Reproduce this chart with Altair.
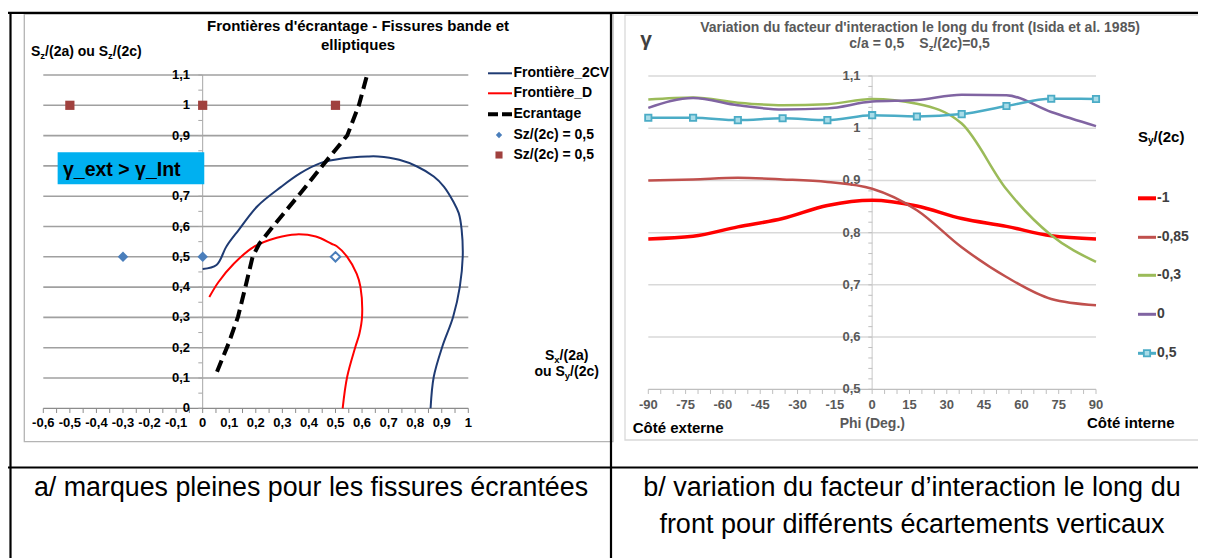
import altair as alt
import pandas as pd

# ---------------- canvas ----------------
W, H = 1190, 550
M = 8  # page margin


def X(p):
    return round(p - M, 2)


def Y(p):
    return round(p - M, 2)


FONT = "Liberation Sans, Arial, Helvetica, sans-serif"

# ---------------- chart a data ----------------
cv2_x = [0.0, 0.052, 0.09, 0.136, 0.206, 0.294, 0.368, 0.443, 0.53, 0.62, 0.66, 0.74,
         0.807, 0.87, 0.908, 0.945, 0.964, 0.975, 0.979, 0.968, 0.943, 0.902, 0.870, 0.858]
cv2_y = [0.46, 0.473, 0.535, 0.589, 0.667, 0.73, 0.776, 0.809, 0.825, 0.831, 0.831, 0.82,
         0.798, 0.765, 0.732, 0.68, 0.644, 0.589, 0.5, 0.401, 0.302, 0.203, 0.104, 0.0]
fd_x = [0.025, 0.059, 0.117, 0.191, 0.279, 0.352, 0.426, 0.485, 0.505, 0.544, 0.58,
        0.594, 0.6, 0.59, 0.575, 0.544, 0.527]
fd_y = [0.367, 0.416, 0.477, 0.532, 0.563, 0.574, 0.567, 0.543, 0.535, 0.5, 0.444,
        0.401, 0.302, 0.246, 0.203, 0.104, 0.0]
ecr_x = [0.054, 0.098, 0.133, 0.161, 0.188, 0.213, 0.26, 0.368, 0.453, 0.544, 0.588, 0.619]
ecr_y = [0.121, 0.215, 0.302, 0.401, 0.5, 0.543, 0.595, 0.71, 0.803, 0.9, 1.0, 1.1]
diam_x = [-0.3, 0.0]
diam_y = [0.5, 0.5]
open_diam_x = [0.5]
open_diam_y = [0.5]
sq_x = [-0.5, 0.0, 0.5]
sq_y = [1.0, 1.0, 1.0]

# tick values / labels chart a ("0,8" is hidden under the annotation box)
xa_major = [-0.6, -0.5, -0.4, -0.3, -0.2, -0.1, 0.0, 0.1, 0.2, 0.3, 0.4, 0.5, 0.6, 0.7, 0.8,
            0.9, 1.0]
xa_labels = ["-0,6", "-0,5", "-0,4", "-0,3", "-0,2", "-0,1", "0", "0,1", "0,2", "0,3", "0,4",
             "0,5", "0,6", "0,7", "0,8", "0,9", "1"]
ya_major = [0.0, 0.1, 0.2, 0.3, 0.4, 0.5, 0.6, 0.7, 0.9, 1.0, 1.1]
ya_labels = ["0", "0,1", "0,2", "0,3", "0,4", "0,5", "0,6", "0,7", "0,9", "1", "1,1"]
ya_grid = [0.1, 0.2, 0.3, 0.4, 0.5, 0.6, 0.7, 0.8, 0.9, 1.0, 1.1]

# ---------------- chart b data ----------------
phi = [-90, -72, -54, -36, -18, 0, 18, 36, 54, 72, 90]
g_m1 = [0.788, 0.793, 0.811, 0.827, 0.852, 0.862, 0.851, 0.827, 0.812, 0.794, 0.788]
g_m085 = [0.900, 0.902, 0.905, 0.902, 0.897, 0.884, 0.843, 0.772, 0.715, 0.673, 0.661]
g_m03 = [1.055, 1.059, 1.049, 1.044, 1.046, 1.056, 1.047, 1.009, 0.883, 0.795, 0.744]
g_0 = [1.039, 1.058, 1.044, 1.036, 1.038, 1.051, 1.054, 1.064, 1.063, 1.031, 1.004]
g_05 = [1.020, 1.020, 1.0155, 1.019, 1.0155, 1.025, 1.0225, 1.027, 1.0425, 1.0565, 1.056]
series_names = ["-1", "-0,85", "-0,3", "0", "0,5"]
series_vals = [g_m1, g_m085, g_m03, g_0, g_05]
series_cols = ["#FF0000", "#C0504D", "#9BBB59", "#8064A2", "#4BACC6"]
series_sw = [3.5, 2.5, 2.5, 2.5, 2.5]

xb_major = [-90, -75, -60, -45, -30, -15, 0, 15, 30, 45, 60, 75, 90]
xb_labels = ["-90", "-75", "-60", "-45", "-30", "-15", "0", "15", "30", "45", "60", "75", "90"]
yb_major = [0.5, 0.6, 0.7, 0.8, 0.9, 1.0, 1.1]
yb_labels = ["0,5", "0,6", "0,7", "0,8", "0,9", "1", "1,1"]

# ---------------- helpers ----------------
ONE = pd.DataFrame({"k": [1]})
BW = {' ': 278, '(': 333, ')': 333, ',': 278, '/': 278, '=': 584, '.': 278, 'S': 667,
      'a': 556, 'c': 556, 'o': 611, 'u': 611, 'x': 556, 'y': 556, 'z': 500}
for d in "0123456789":
    BW[d] = 556


def rich(pieces, x0, yc, fs, subfs, anchor="left"):
    widths = [sum(BW.get(c, 556) for c in t) / 1000.0 * (subfs if s else fs) for t, s in pieces]
    if anchor == "center":
        x0 -= sum(widths) / 2.0
    rows, x = [], x0
    for (t, s), w in zip(pieces, widths):
        rows.append((x, yc + (fs * 0.28 if s else 0), t, subfs if s else fs))
        x += w
    return rows


def texts(rows, color, align="left", weight="bold", baseline="middle", font=FONT):
    df = pd.DataFrame({"px": [X(r[0]) for r in rows], "py": [Y(r[1]) for r in rows],
                       "t": [r[2] for r in rows], "fs": [r[3] for r in rows]})
    return alt.Chart(df).mark_text(align=align, baseline=baseline, font=font,
                                   fontWeight=weight, color=color).encode(
        x=alt.X("px:Q", scale=None, axis=None),
        y=alt.Y("py:Q", scale=None, axis=None),
        text="t:N",
        size=alt.Size("fs:Q", scale=None, legend=None))


def curve_df(xs, ys):
    return pd.DataFrame({"x": xs, "y": ys, "i": list(range(len(xs)))})


def frange(a, b, step, nd=2):
    n = int(round((b - a) / step))
    return [round(a + step * k, nd) for k in range(n + 1)]


# ================= chart a =================
xa = alt.Scale(domain=[-0.6, 1.0], range=[X(43.3), X(468.3)], nice=False, zero=False)
ya = alt.Scale(domain=[0, 1.1], range=[Y(408.3), Y(75.0)], nice=False, zero=False)
XA = lambda f: alt.X(f, scale=xa, axis=None)
YA = lambda f: alt.Y(f, scale=ya, axis=None)

grid_a = alt.Chart(pd.DataFrame({"v": ya_grid, "x0": -0.6, "x1": 1.0})).mark_rule(
    color="#A0A0A0", strokeWidth=1.6).encode(x=XA("x0:Q"), x2="x1", y=YA("v:Q"))

# axes of chart a (drawn with the chart's own scales)
a_ydom = alt.Chart(pd.DataFrame({"x": [0.0], "y0": [0.0], "y1": [1.1]})).mark_rule(
    color="#A6A6A6", strokeWidth=1).encode(x=XA("x:Q"), y=YA("y0:Q"), y2="y1")
a_xdom = alt.Chart(pd.DataFrame({"y": [0.0], "x0": [-0.6], "x1": [1.0]})).mark_rule(
    color="#8C8C8C", strokeWidth=1.2).encode(y=YA("y:Q"), x=XA("x0:Q"), x2="x1")
a_yticks = alt.Chart(pd.DataFrame({"v": frange(0, 1.1, 0.05)})).mark_rule(
    color="#A6A6A6", strokeWidth=1).encode(
    y=YA("v:Q"), x=alt.value(X(198.3)), x2=alt.value(X(202.3)))
a_xticks = alt.Chart(pd.DataFrame({"v": frange(-0.6, 1.0, 0.05)})).mark_rule(
    color="#8C8C8C", strokeWidth=1).encode(
    x=XA("v:Q"), y=alt.value(Y(408.3)), y2=alt.value(Y(413.0)))
a_ylab = alt.Chart(pd.DataFrame({"v": ya_major, "t": ya_labels})).mark_text(
    align="right", baseline="middle", font=FONT, fontSize=13, fontWeight="bold",
    color="#000000").encode(y=YA("v:Q"), x=alt.value(X(190.0)), text="t:N")
a_xlab = alt.Chart(pd.DataFrame({"v": xa_major, "t": xa_labels})).mark_text(
    align="center", baseline="middle", font=FONT, fontSize=13, fontWeight="bold",
    color="#000000").encode(x=XA("v:Q"), y=alt.value(Y(423.0)), text="t:N")

line_2cv = alt.Chart(curve_df(cv2_x, cv2_y)).mark_line(
    color="#1F3B73", strokeWidth=2, interpolate="catmull-rom").encode(
    x=XA("x:Q"), y=YA("y:Q"), order="i:Q")
line_d = alt.Chart(curve_df(fd_x, fd_y)).mark_line(
    color="#FF0000", strokeWidth=2, interpolate="catmull-rom").encode(
    x=XA("x:Q"), y=YA("y:Q"), order="i:Q")
line_ecr = alt.Chart(curve_df(ecr_x, ecr_y)).mark_line(
    color="#000000", strokeWidth=4, strokeDash=[12, 6]).encode(
    x=XA("x:Q"), y=YA("y:Q"), order="i:Q")

pts_d = alt.Chart(pd.DataFrame({"x": diam_x, "y": diam_y})).mark_point(
    shape="diamond", filled=True, color="#4A7EBB", size=110, opacity=1).encode(
    x=XA("x:Q"), y=YA("y:Q"))
pts_od = alt.Chart(pd.DataFrame({"x": open_diam_x, "y": open_diam_y})).mark_point(
    shape="diamond", filled=False, stroke="#4A7EBB", fill="#FFFFFF", strokeWidth=2,
    size=90, opacity=1).encode(x=XA("x:Q"), y=YA("y:Q"))
pts_s = alt.Chart(pd.DataFrame({"x": sq_x, "y": sq_y})).mark_point(
    shape="square", filled=True, color="#A0413E", size=85, opacity=1).encode(
    x=XA("x:Q"), y=YA("y:Q"))

# annotation box (data coordinates of chart a)
ann = pd.DataFrame({"x0": [-0.546], "x1": [0.006], "y0": [0.7395], "y1": [0.845],
                    "tx": [-0.526], "ty": [0.787]})
ann_box = alt.Chart(ann).mark_rect(color="#00B0F0").encode(
    x=XA("x0:Q"), x2="x1", y=YA("y0:Q"), y2="y1")
ann_txt = alt.Chart(ann).mark_text(text="γ_ext > γ_Int", font=FONT, fontSize=19.5,
                                   fontWeight="bold", align="left", baseline="middle",
                                   color="#000000").encode(x=XA("tx:Q"), y=YA("ty:Q"))

chart_a = alt.layer(grid_a, a_ydom, a_xdom, a_yticks, a_xticks, a_ylab, a_xlab,
                    line_2cv, line_d, line_ecr, pts_d, pts_od, pts_s, ann_box, ann_txt)

# ================= chart b =================
xb = alt.Scale(domain=[-90, 90], range=[X(648.3), X(1096.0)], nice=False, zero=False)
yb = alt.Scale(domain=[0.5, 1.1], range=[Y(389.3), Y(76.0)], nice=False, zero=False)
XB = lambda f: alt.X(f, scale=xb, axis=None)
YB = lambda f: alt.Y(f, scale=yb, axis=None)

grid_b = alt.Chart(pd.DataFrame({"v": yb_major[1:], "x0": -90, "x1": 90})).mark_rule(
    color="#D9D9D9", strokeWidth=1.5).encode(x=XB("x0:Q"), x2="x1", y=YB("v:Q"))
b_ydom = alt.Chart(pd.DataFrame({"x": [0], "y0": [0.5], "y1": [1.1]})).mark_rule(
    color="#D0D0D0", strokeWidth=1.2).encode(x=XB("x:Q"), y=YB("y0:Q"), y2="y1")
b_xdom = alt.Chart(pd.DataFrame({"y": [0.5], "x0": [-90], "x1": [90]})).mark_rule(
    color="#BFBFBF", strokeWidth=1.3).encode(y=YB("y:Q"), x=XB("x0:Q"), x2="x1")
b_yticks = alt.Chart(pd.DataFrame({"v": frange(0.5, 1.1, 0.02)})).mark_rule(
    color="#BFBFBF", strokeWidth=1).encode(
    y=YB("v:Q"), x=alt.value(X(868.3)), x2=alt.value(X(872.3)))
b_xticks = alt.Chart(pd.DataFrame({"v": list(range(-90, 91, 5))})).mark_rule(
    color="#BFBFBF", strokeWidth=1).encode(
    x=XB("v:Q"), y=alt.value(Y(389.3)), y2=alt.value(Y(394.0)))
b_ylab = alt.Chart(pd.DataFrame({"v": yb_major, "t": yb_labels})).mark_text(
    align="right", baseline="middle", font=FONT, fontSize=13, fontWeight="bold",
    color="#595959").encode(y=YB("v:Q"), x=alt.value(X(860.5)), text="t:N")
b_xlab = alt.Chart(pd.DataFrame({"v": xb_major, "t": xb_labels})).mark_text(
    align="center", baseline="middle", font=FONT, fontSize=13, fontWeight="bold",
    color="#595959").encode(x=XB("v:Q"), y=alt.value(Y(405.0)), text="t:N")

layers_b = [grid_b, b_ydom, b_xdom, b_yticks, b_xticks, b_ylab, b_xlab]
for vals, col, sw in zip(series_vals, series_cols, series_sw):
    df = pd.DataFrame({"phi": phi, "g": vals})
    layers_b.append(alt.Chart(df).mark_line(color=col, strokeWidth=sw,
                                            interpolate="monotone").encode(
        x=XB("phi:Q"), y=YB("g:Q")))
layers_b.append(alt.Chart(pd.DataFrame({"phi": phi, "g": g_05})).mark_point(
    shape="square", filled=True, fill="#A9DCE8", stroke="#4BACC6", strokeWidth=1.8,
    size=40, opacity=1).encode(x=XB("phi:Q"), y=YB("g:Q")))
chart_b = alt.layer(*layers_b)

# ================= decorations (page pixels) =================
frames = alt.Chart(pd.DataFrame({
    "x1": [X(24.3), X(625.0)], "x2": [X(613.0), X(1215.0)],
    "y1": [Y(14.0), Y(15.0)], "y2": [Y(441.7), Y(440.0)],
    "c": ["a", "b"]})).mark_rect(fill="transparent", strokeWidth=1.3).encode(
    x=alt.X("x1:Q", scale=None, axis=None), x2="x2",
    y=alt.Y("y1:Q", scale=None, axis=None), y2="y2",
    stroke=alt.Stroke("c:N", scale=alt.Scale(domain=["a", "b"], range=["#B4B4B4", "#D9D9D9"]),
                      legend=None))

table = alt.Chart(pd.DataFrame({
    "x1": [X(8), X(10.5), X(611.0), X(8)],
    "x2": [X(1215), X(10.5), X(611.0), X(1215)],
    "y1": [Y(12.8), Y(12.0), Y(12.0), Y(467.5)],
    "y2": [Y(12.8), Y(600), Y(600), Y(467.5)]})).mark_rule(
    color="#000000", strokeWidth=2.2).encode(
    x=alt.X("x1:Q", scale=None, axis=None), x2="x2",
    y=alt.Y("y1:Q", scale=None, axis=None), y2="y2")

# chart a texts
title_a = texts([(358, 26, "Frontières d'écrantage - Fissures bande et", 15),
                 (358, 45, "elliptiques", 15)], "#000000", align="center")
ytitle_a = texts(rich([("S", 0), ("z", 1), ("/(2a) ou S", 0), ("z", 1), ("/(2c)", 0)],
                      31, 51.7, 14, 9.5), "#000000")
xtitle_a = texts(rich([("S", 0), ("x", 1), ("/(2a)", 0)], 566.7, 356.2, 14, 9.5, "center")
                 + rich([("ou S", 0), ("y", 1), ("/(2c)", 0)], 566.7, 372.3, 14, 9.5, "center"),
                 "#000000")
leg_rows = [73.3, 93.3, 114.3, 135.0, 155.0]
leg_a_txt = texts([(513.5, leg_rows[0], "Frontière_2CV", 14),
                   (513.5, leg_rows[1], "Frontière_D", 14),
                   (513.5, leg_rows[2], "Ecrantage", 14),
                   (513.5, leg_rows[3], "Sz/(2c) = 0,5", 14),
                   (513.5, leg_rows[4], "Sz/(2c) = 0,5", 14)], "#000000")
leg_a_l1 = alt.Chart(ONE).mark_rule(color="#1F3B73", strokeWidth=2).encode(
    x=alt.value(X(488)), x2=alt.value(X(512)), y=alt.value(Y(leg_rows[0])))
leg_a_l2 = alt.Chart(ONE).mark_rule(color="#FF0000", strokeWidth=2).encode(
    x=alt.value(X(488)), x2=alt.value(X(512)), y=alt.value(Y(leg_rows[1])))
leg_a_l3 = alt.Chart(ONE).mark_rule(color="#000000", strokeWidth=4, strokeDash=[10, 4]).encode(
    x=alt.value(X(488)), x2=alt.value(X(512)), y=alt.value(Y(leg_rows[2])))
leg_a_p1 = alt.Chart(ONE).mark_point(shape="diamond", filled=True, color="#4A7EBB", size=40,
                                     opacity=1).encode(
    x=alt.value(X(499)), y=alt.value(Y(leg_rows[3])))
leg_a_p2 = alt.Chart(ONE).mark_point(shape="square", filled=True, color="#A0413E", size=50,
                                     opacity=1).encode(
    x=alt.value(X(499)), y=alt.value(Y(leg_rows[4])))

# chart b texts
title_b = texts([(920, 28, "Variation du facteur d'interaction le long du front (Isida et al. 1985)",
                  14)], "#595959", align="center")
sub_b = texts([(849.3, 44.3, "c/a = 0,5", 14)]
              + rich([("S", 0), ("z", 1), ("/(2c)=0,5", 0)], 919.3, 44.3, 14, 9.5), "#595959")
gamma_b = texts([(646, 40, "γ", 21)], "#404040", align="center")
xlab_b = texts([(872.3, 424, "Phi (Deg.)", 14)], "#595959", align="center")
sides_b = texts([(632.7, 428.3, "Côté externe", 15), (1087, 423.3, "Côté interne", 15)],
                "#000000")
legt_b = texts(rich([("S", 0), ("y", 1), ("/(2c)", 0)], 1138, 136.7, 15, 10), "#000000")
leg_b_rows = [198.3, 237.3, 275.3, 314.3, 353.3]
leg_b_txt = texts([(1157, yy, nm, 14) for yy, nm in zip(leg_b_rows, series_names)], "#404040")
leg_b_lines = []
for yy, col, sw in zip(leg_b_rows, series_cols, series_sw):
    leg_b_lines.append(alt.Chart(ONE).mark_rule(color=col, strokeWidth=sw + 0.5).encode(
        x=alt.value(X(1138)), x2=alt.value(X(1156)), y=alt.value(Y(yy))))
leg_b_pt = alt.Chart(ONE).mark_point(shape="square", filled=True, fill="#A9DCE8",
                                     stroke="#4BACC6", strokeWidth=1.8, size=40,
                                     opacity=1).encode(
    x=alt.value(X(1147)), y=alt.value(Y(leg_b_rows[4])))

# captions
captions = texts([(311, 495.7, "a/ marques pleines pour les fissures écrantées", 26.8),
                  (912, 496, "b/ variation du facteur d\u2019interaction le long du", 27),
                  (912, 533, "front pour différents écartements verticaux", 27)],
                 "#000000", align="center", weight="normal", baseline="alphabetic")

chart = alt.layer(
    frames, chart_a, chart_b, table,
    title_a, ytitle_a, xtitle_a, leg_a_txt, leg_a_l1, leg_a_l2, leg_a_l3, leg_a_p1, leg_a_p2,
    title_b, sub_b, gamma_b, xlab_b, sides_b, legt_b, leg_b_txt, *leg_b_lines, leg_b_pt,
    captions,
).resolve_scale(x="independent", y="independent").properties(
    width=W, height=H, autosize=alt.AutoSizeParams(type="none"), padding=0,
    background="#FFFFFF",
).configure_view(stroke=None)

chart.save("out.html", embed_options={"renderer": "svg", "actions": False})
